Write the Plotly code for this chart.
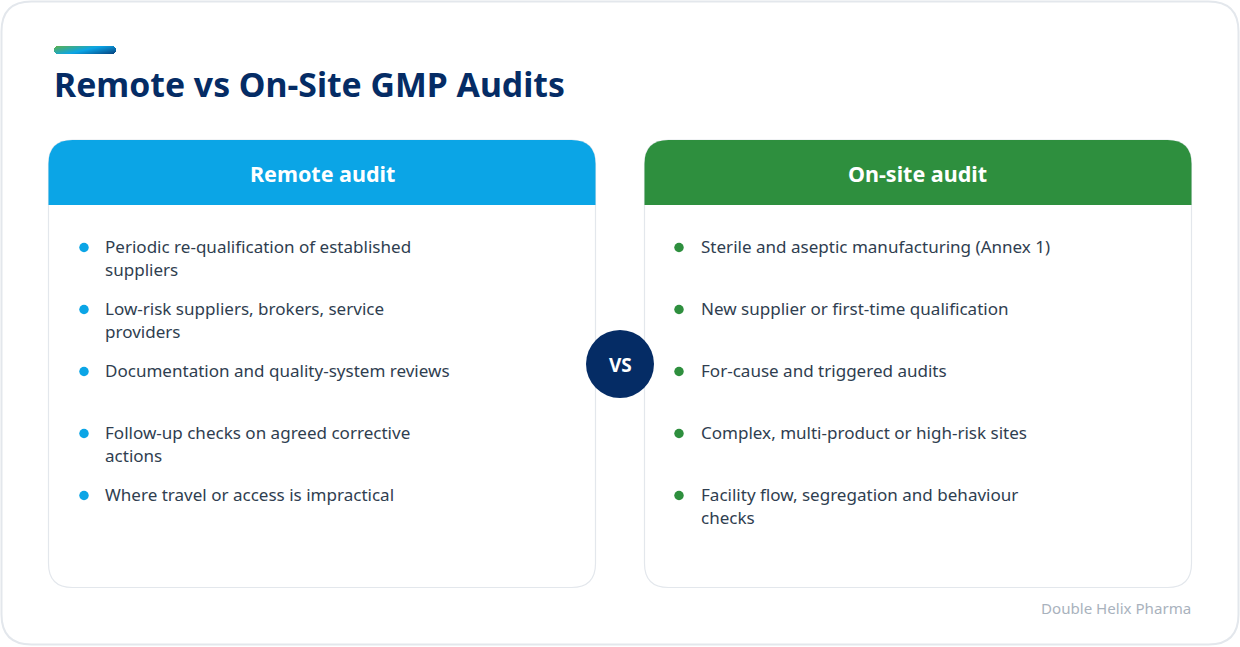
import numpy as np
import plotly.graph_objects as go

title = "Remote vs On-Site GMP Audits"
footer = "Double Helix Pharma"
left_head = "Remote audit"
right_head = "On-site audit"
left_items = [
    ["Periodic re-qualification of established", "suppliers"],
    ["Low-risk suppliers, brokers, service", "providers"],
    ["Documentation and quality-system reviews"],
    ["Follow-up checks on agreed corrective", "actions"],
    ["Where travel or access is impractical"],
]
right_items = [
    ["Sterile and aseptic manufacturing (Annex 1)"],
    ["New supplier or first-time qualification"],
    ["For-cause and triggered audits"],
    ["Complex, multi-product or high-risk sites"],
    ["Facility flow, segregation and behaviour", "checks"],
]

W, H = 1240, 647
FONT = "Noto Sans"
NAVY = "#052c65"
BLUE = "#0ba5e6"
GREEN = "#2e8f3e"
BORDER = "#e3e7ec"
TEXT = "#2f3e50"


def round_rect(x0, y0, x1, y1, rt, rb):
    return (f"M{x0+rt},{y0} L{x1-rt},{y0} Q{x1},{y0} {x1},{y0+rt} "
            f"L{x1},{y1-rb} Q{x1},{y1} {x1-rb},{y1} L{x0+rb},{y1} "
            f"Q{x0},{y1} {x0},{y1-rb} L{x0},{y0+rt} Q{x0},{y0} {x0+rt},{y0} Z")


fig = go.Figure()

# card and the two panels
shapes = [dict(type="path", path=round_rect(1.5, 1.5, 1238.5, 644.5, 30, 30),
               line=dict(color=BORDER, width=2), fillcolor="white", layer="below")]
for x0, color in [(48.5, BLUE), (644.5, GREEN)]:
    shapes.append(dict(type="path", path=round_rect(x0, 140, x0 + 547, 587.5, 24, 24),
                       line=dict(color=BORDER, width=1.2), fillcolor="white", layer="below"))
    shapes.append(dict(type="path", path=round_rect(x0, 140, x0 + 547, 205, 24, 0),
                       line=dict(width=0), fillcolor=color, layer="below"))

# accent bar, diagonal gradient with rounded ends
bx = np.arange(54, 116) + 0.5
by = np.arange(46, 54) + 0.5
gx, gy = np.meshgrid(bx, by)
z = (gx - 54) / 62 * 0.65 + (gy - 46) / 8 * 0.35
r = 4
dx = np.maximum(np.maximum(54 + r - gx, gx - (116 - r)), 0)
dy = np.maximum(np.maximum(46 + r - gy, gy - (54 - r)), 0)
z[dx ** 2 + dy ** 2 > r ** 2] = np.nan
fig.add_trace(go.Heatmap(x=bx, y=by, z=z, zmin=0, zmax=1, showscale=False, hoverinfo="skip",
                         colorscale=[[0, "#5fb04a"], [0.5, "#0ba5e6"], [1, "#063f7c"]]))

annotations = []


def text(x, y, s, size, color, anchor="left", bold=False):
    annotations.append(dict(x=x, y=y, text=f"<b>{s}</b>" if bold else s, showarrow=False,
                            xanchor=anchor, yanchor="middle", align="left",
                            font=dict(family=FONT, size=size, color=color)))


text(52, 84, title, 33.75, NAVY, bold=True)
text(322, 173, left_head, 21.5, "white", "center", True)
text(917, 173, right_head, 21.5, "white", "center", True)
text(1193, 608, footer, 15.1, "#a9b2bd", "right")

# bullet rows
for items, bx0, tx, color in [(left_items, 84, 103, BLUE), (right_items, 679, 699, GREEN)]:
    ys = []
    for i, item in enumerate(items):
        y = 247.5 + 62 * i
        ys.append(y)
        for j, line in enumerate(item):
            text(tx, y - 1 + 23 * j, line, 17.05, TEXT)
    fig.add_trace(go.Scatter(x=[bx0] * len(ys), y=ys, mode="markers", hoverinfo="skip",
                             marker=dict(size=9.5, color=color, line=dict(width=0))))

# vs badge
fig.add_trace(go.Scatter(x=[620], y=[364], mode="markers", hoverinfo="skip",
                         marker=dict(size=68, color=NAVY, line=dict(width=0))))
text(620, 365, "VS", 19, "white", "center", True)

fig.update_layout(
    width=W, height=H, showlegend=False,
    margin=dict(l=0, r=0, t=0, b=0),
    paper_bgcolor="white", plot_bgcolor="white",
    shapes=shapes, annotations=annotations,
    xaxis=dict(range=[0, W], visible=False, fixedrange=True),
    yaxis=dict(range=[H, 0], visible=False, fixedrange=True),
)

fig.write_html("out.html", config={"displayModeBar": False},
               post_script="document.body.style.margin='0';document.documentElement.style.overflow='hidden';")
